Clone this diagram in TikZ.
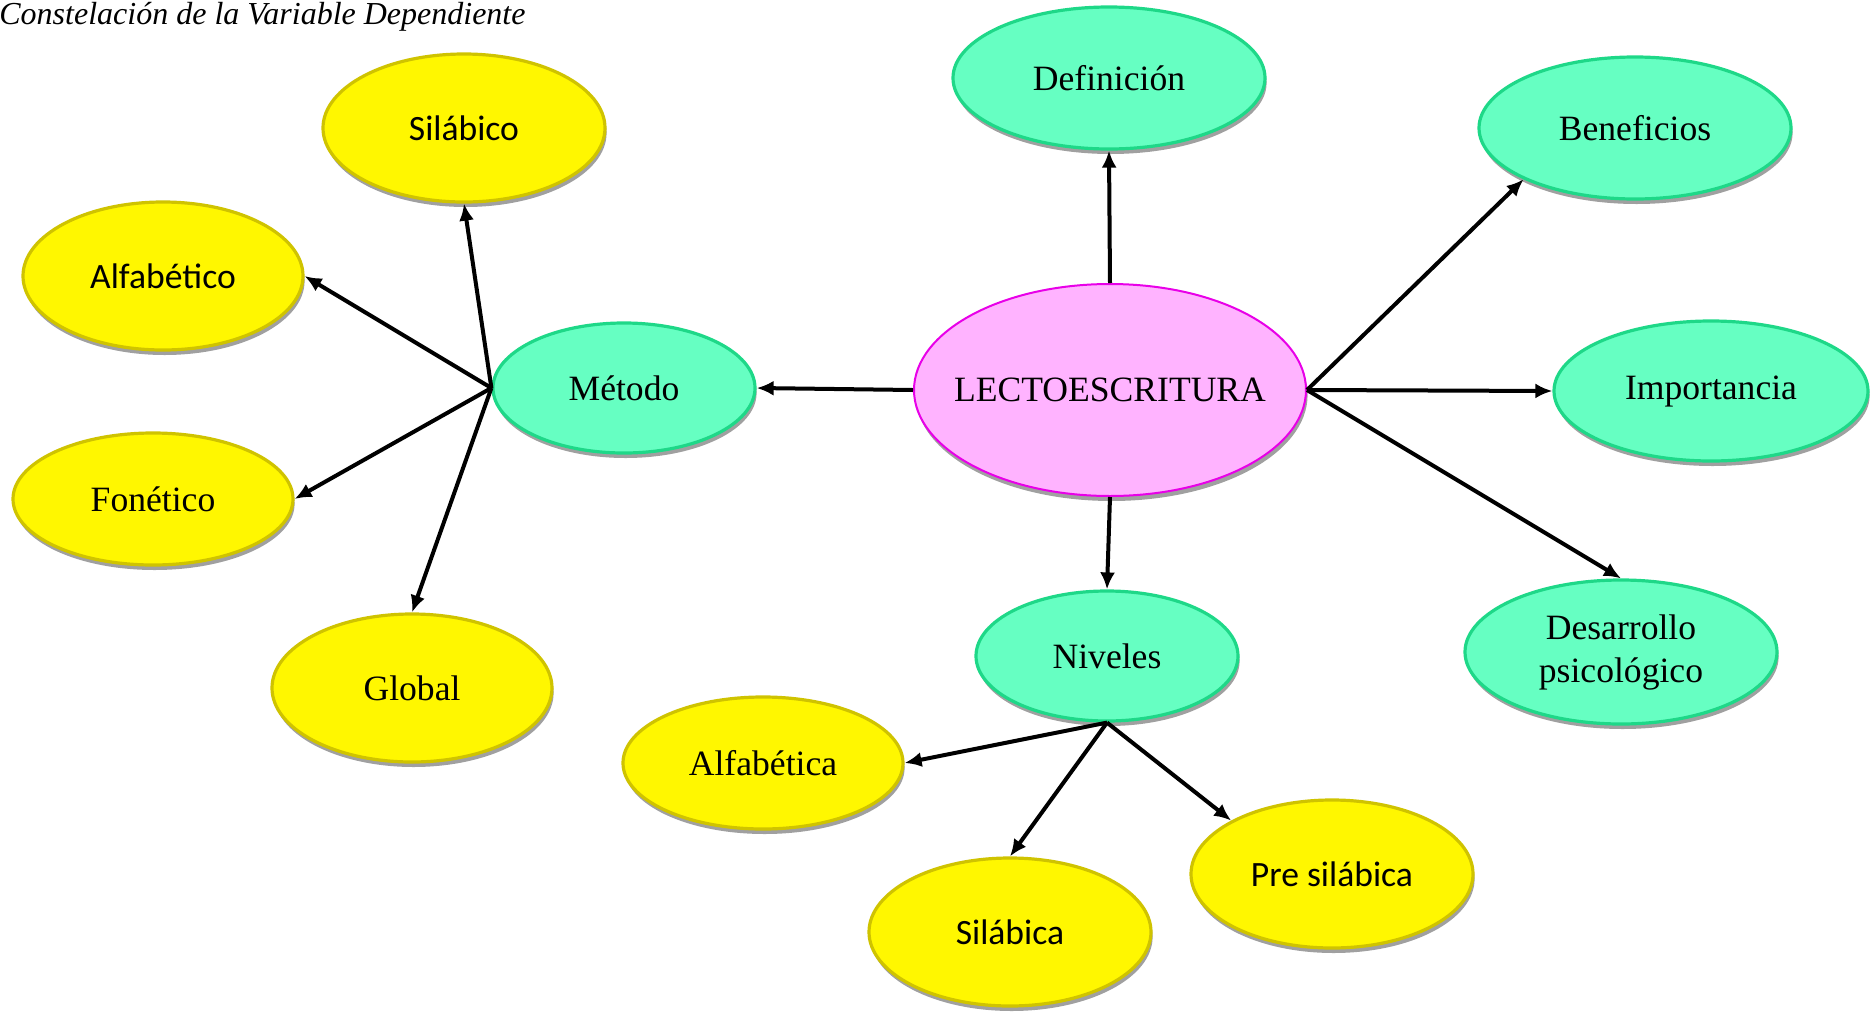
\documentclass[tikz,border=0pt]{standalone}
\usepackage{fontspec}
\setmainfont{Liberation Serif}
\newfontfamily\calfont{Carlito}
\usetikzlibrary{arrows.meta,shapes.geometric,shadows}
\definecolor{yfill}{HTML}{FFF700}
\definecolor{yline}{HTML}{CFC300}
\definecolor{mfill}{HTML}{66FFC2}
\definecolor{mline}{HTML}{1ED888}
\definecolor{pfill}{HTML}{FFB3FF}
\definecolor{pline}{HTML}{E800E8}
\definecolor{shcol}{HTML}{A0A0A0}
\tikzset{
  bubble/.style={ellipse, inner sep=0pt, line width=1.6pt, font=\fontsize{17.8}{21.5}\selectfont,
    drop shadow={shadow xshift=0.8pt, shadow yshift=-2.5pt, fill=shcol, opacity=1}},
  yel/.style={bubble, fill=yfill, draw=yline},
  mint/.style={bubble, fill=mfill, draw=mline},
  pink/.style={bubble, fill=pfill, draw=pline, line width=1pt},
  sz/.style 2 args={minimum width=#1pt, minimum height=#2pt},
  cal/.style={font=\calfont\fontsize{17.8}{21.5}\selectfont},
  arr/.style={-{Latex[length=8.5pt,width=7.5pt]}, line width=2pt, black}
}
\begin{document}
\begin{tikzpicture}[x=0.5pt,y=-0.5pt]
\useasboundingbox (0,0) rectangle (1876,1013);
\node[anchor=base west, inner sep=0pt, font=\itshape\fontsize{16}{18}\selectfont] (title) at (-1,24) {Constelación de la Variable Dependiente};
% nodes
\node[yel, cal, sz={141}{74}] (silabico) at (464,128) {\makebox[0pt]{Silábico}};
\node[yel, cal, sz={140}{74}] (alfabetico) at (163,276) {\makebox[0pt]{Alfabético}};
\node[yel, sz={140}{66}] (fonetico) at (153,499) {\makebox[0pt]{Fonético}};
\node[yel, sz={140}{74}] (global) at (412,688) {\makebox[0pt]{Global}};
\node[mint, sz={131}{65}] (metodo) at (624,388) {\makebox[0pt]{Método}};
\node[pink, sz={196}{106}] (lecto) at (1110,390) {\makebox[0pt]{LECTOESCRITURA}};
\node[mint, sz={156}{71}] (definicion) at (1109,78) {\makebox[0pt]{Definición}};
\node[mint, sz={156}{71}] (beneficios) at (1635,128) {\makebox[0pt]{Beneficios}};
\node[mint, sz={157}{70}] (importancia) at (1711,391) {\makebox[0pt]{Importancia}};
\node[mint, sz={156}{72}] (desarrollo) at (1621,652) {\makebox[0pt]{\begin{tabular}{@{}c@{}}Desarrollo\\psicológico\end{tabular}}};
\node[mint, sz={131}{65}] (niveles) at (1107,656) {\makebox[0pt]{Niveles}};
\node[yel, sz={140}{66}] (alfabetica) at (763,763) {\makebox[0pt]{Alfabética}};
\node[yel, cal, sz={141}{74}] (silabica) at (1010,932) {\makebox[0pt]{Silábica}};
\node[yel, cal, sz={141}{74}] (presilabica) at (1332,874) {\makebox[0pt]{Pre silábica}};
% connectors
\draw[arr] (metodo.west) -- (silabico.south);
\draw[arr] (metodo.west) -- (alfabetico.east);
\draw[arr] (metodo.west) -- (fonetico.east);
\draw[arr] (metodo.west) -- (global.north);
\draw[arr] (lecto.west) -- (metodo.east);
\draw[arr] (lecto.north) -- (definicion.south);
\draw[arr] (lecto.east) -- (beneficios.south west);
\draw[arr] (lecto.east) -- (importancia.west);
\draw[arr] (lecto.east) -- (desarrollo.north);
\draw[arr] (lecto.south) -- (niveles.north);
\draw[arr] (niveles.south) -- (alfabetica.east);
\draw[arr] (niveles.south) -- (silabica.north);
\draw[arr] (niveles.south) -- (presilabica.north west);
\end{tikzpicture}
\end{document}
